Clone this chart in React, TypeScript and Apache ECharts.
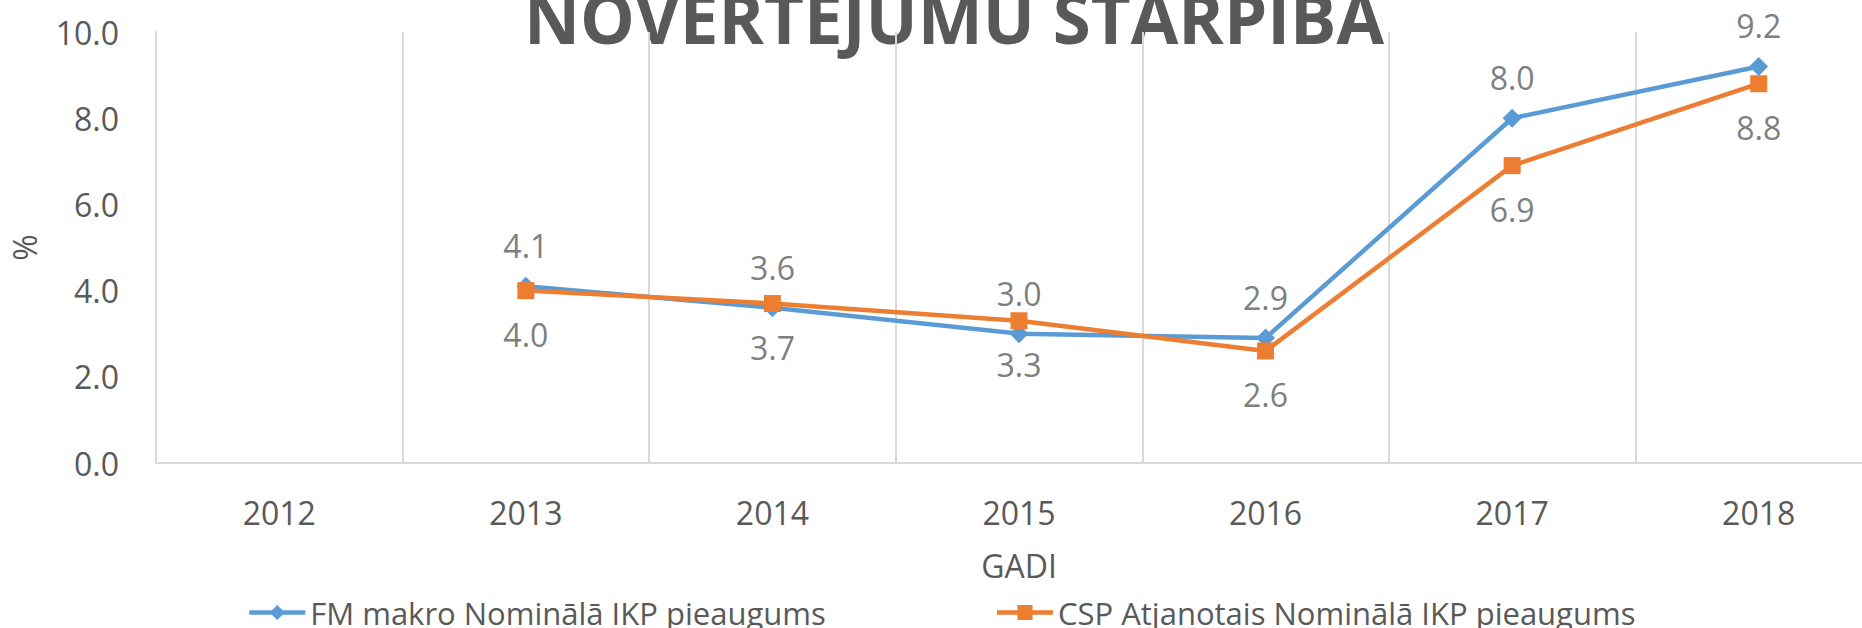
import React, { useEffect, useRef } from "react";
import * as echarts from "echarts";

const years = ["2012", "2013", "2014", "2015", "2016", "2017", "2018"];
const fmValues = [null, 4.1, 3.6, 3.0, 2.9, 8.0, 9.2];
const cspValues = [null, 4.0, 3.7, 3.3, 2.6, 6.9, 8.8];
const fmName = "FM makro Nominālā IKP pieaugums";
const cspName = "CSP Atjanotais Nominālā IKP pieaugums";
const titleText = "NOVĒRTĒJUMU STARPĪBA";

const FONT = "'Open Sans', 'Noto Sans', sans-serif";

export default function App() {
  const ref = useRef<HTMLDivElement>(null);
  useEffect(() => {
    if (!ref.current) return;
    const chart = echarts.init(ref.current, undefined, { renderer: "svg" });
    chart.setOption({
      animation: false,
      backgroundColor: "#ffffff",
      textStyle: { fontFamily: FONT },
      graphic: [
        {
          type: "text",
          x: 954,
          y: -18,
          style: {
            text: titleText,
            align: "center",
            verticalAlign: "top",
            fontFamily: FONT,
            fontWeight: "bold",
            fontSize: 69,
            fill: "#595959",
          },
        },
      ],
      grid: { left: 156, top: 32, width: 1726, height: 431, containLabel: false },
      legend: {
        top: 592,
        left: 242,
        itemWidth: 56,
        itemHeight: 19,
        itemGap: 169,
        lineStyle: { width: 4.5 },
        textStyle: { fontSize: 31, color: "#595959", fontFamily: FONT },
        data: [fmName, cspName],
      },
      xAxis: {
        type: "category",
        data: years,
        boundaryGap: true,
        name: "GADI",
        nameLocation: "middle",
        nameGap: 86,
        nameTextStyle: { fontSize: 32, color: "#595959", fontFamily: FONT },
        axisLine: { show: true, lineStyle: { color: "#d9d9d9", width: 2 } },
        axisTick: { show: false },
        axisLabel: { fontSize: 32, color: "#595959", margin: 33, fontFamily: FONT },
        splitLine: { show: true, lineStyle: { color: "#d9d9d9", width: 2 } },
      },
      yAxis: {
        type: "value",
        min: 0,
        max: 10,
        interval: 2,
        name: "%",
        nameLocation: "middle",
        nameGap: 116,
        nameTextStyle: { fontSize: 32, color: "#595959", fontFamily: FONT },
        axisLine: { show: true, lineStyle: { color: "#d9d9d9", width: 2 } },
        axisTick: { show: false },
        axisLabel: {
          fontSize: 32,
          color: "#595959",
          margin: 37,
          fontFamily: FONT,
          formatter: (v: number) => v.toFixed(1),
        },
        splitLine: { show: false },
      },
      series: [
        {
          name: fmName,
          type: "line",
          data: fmValues,
          color: "#5B9BD5",
          lineStyle: { width: 4.5, color: "#5B9BD5" },
          symbol: "diamond",
          symbolSize: 19,
          itemStyle: { color: "#5B9BD5" },
          label: {
            show: true,
            position: "top",
            distance: 15,
            fontSize: 32,
            color: "#7f7f7f",
            fontFamily: FONT,
            formatter: (p: any) => Number(p.value).toFixed(1),
          },
          z: 3,
        },
        {
          name: cspName,
          type: "line",
          data: cspValues,
          color: "#ED7D31",
          lineStyle: { width: 4.5, color: "#ED7D31" },
          symbol: "rect",
          symbolSize: 17,
          itemStyle: { color: "#ED7D31" },
          label: {
            show: true,
            position: "bottom",
            distance: 19,
            fontSize: 32,
            color: "#7f7f7f",
            fontFamily: FONT,
            formatter: (p: any) => Number(p.value).toFixed(1),
          },
          z: 4,
        },
      ],
    });
    return () => chart.dispose();
  }, []);
  return (
    <div
      style={{
        position: "fixed",
        left: 0,
        top: 0,
        width: 1862,
        height: 628,
        overflow: "hidden",
      }}
    >
      <div ref={ref} style={{ width: 1900, height: 628 }} />
    </div>
  );
}
